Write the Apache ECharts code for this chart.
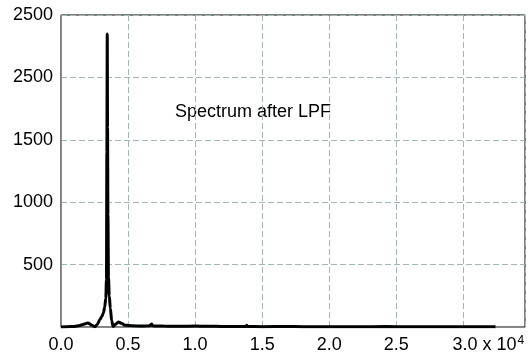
<!DOCTYPE html>
<html><head><meta charset="utf-8">
<script src="https://cdn.jsdelivr.net/npm/echarts@6/dist/echarts.min.js"></script>
<style>html,body{margin:0;padding:0;background:#fff}#c{width:529px;height:355px}</style>
</head><body><div id="c"></div>
<script>
// frequency in units of 10^4
var freqs = [0,0.04,0.1,0.14,0.17,0.2,0.23,0.254,0.27,0.291,0.305,0.316,0.326,0.334,0.339,0.342,0.345,0.347,0.35,0.354,0.36,0.368,0.378,0.388,0.405,0.428,0.45,0.478,0.51,0.537,0.58,0.62,0.66,0.672,0.677,0.682,0.7,0.75,0.8,0.9,1.0,1.1,1.2,1.3,1.38,1.385,1.39,1.5,1.69,1.8,2.0,2.2,2.42,2.6,2.8,3.0,3.24];
var amps  = [0,2,5,12,22,32,15,3,20,60,85,112,160,230,380,1400,2348,1600,900,400,250,150,50,5,20,40,30,15,12,10,8,8,10,20,25,10,8,8,6,6,8,6,5,4,5,15,4,3,5,3,3,2,4,2,2,2,2];
var yTickLabels = {500:'500',1000:'1000',1500:'1500',2000:'2500',2500:'2500'};
var xTickLabels = {0:'0.0',0.5:'0.5',1:'1.0',1.5:'1.5',2:'2.0',2.5:'2.5',3:'{pad|}3.0 x 10{sup|4}'};
var annotation = 'Spectrum after LPF';

var pts = freqs.map(function(f,i){return [f, amps[i]];});
var chart = echarts.init(document.getElementById('c'));
var font = 'Liberation Sans, Arial, sans-serif';
chart.setOption({
  animation:false,
  textStyle:{fontFamily:font},
  grid:{left:61,right:4,top:15,bottom:28,show:true,borderColor:'#000',borderWidth:1,backgroundColor:'transparent'},
  xAxis:{type:'value',min:0,max:3.46,interval:0.5,
    axisLine:{show:true,lineStyle:{color:'#8a8a8a',width:1}},
    axisTick:{show:false},
    splitLine:{show:true,lineStyle:{color:'#a3b5b5',type:[6,3],width:1}},
    axisLabel:{color:'#000',fontSize:18,lineHeight:20,fontFamily:font,margin:8,showMaxLabel:false,
      formatter:function(v){var k=Math.round(v*10)/10; return xTickLabels.hasOwnProperty(k)?xTickLabels[k]:'';},
      rich:{pad:{width:50,lineHeight:20},sup:{fontSize:12,lineHeight:20,verticalAlign:'top',padding:[0,0,0,1],fontFamily:font,color:'#000'}}}
  },
  yAxis:{type:'value',min:0,max:2500,interval:500,
    axisLine:{show:true,lineStyle:{color:'#8a8a8a',width:1}},
    axisTick:{show:false},
    splitLine:{show:true,lineStyle:{color:'#a3b5b5',type:[6,3],width:1}},
    axisLabel:{color:'#000',fontSize:18,fontFamily:font,margin:8,
      formatter:function(v){return yTickLabels[v]||'';}}
  },
  graphic:[{type:'text',left:175,top:103,style:{text:annotation,fill:'#000',font:'18px '+font}}],
  series:[{type:'line',data:pts,showSymbol:false,smooth:0.3,smoothMonotone:'x',
    lineStyle:{color:'#000',width:3},z:5}]
});
</script></body></html>
